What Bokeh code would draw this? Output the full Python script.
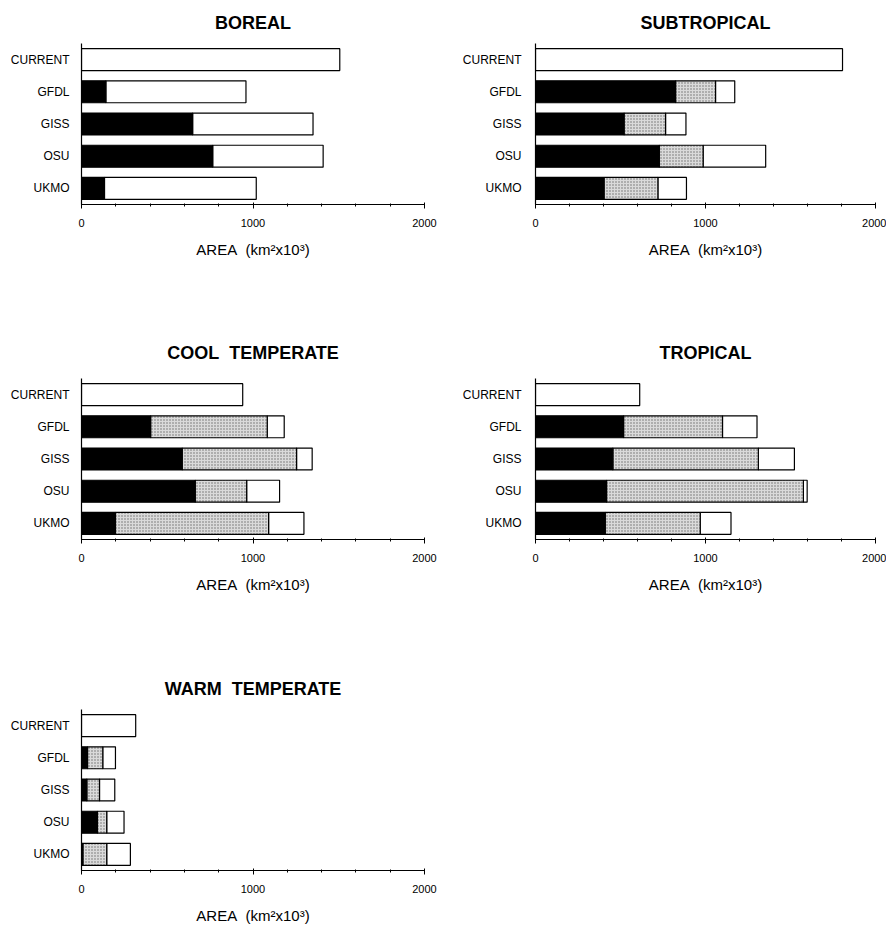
from bokeh.plotting import figure
from bokeh.layouts import column, row
from bokeh.models import FactorRange, Range1d, SingleIntervalTicker, ColumnDataSource
from bokeh.embed import file_html
from bokeh.resources import INLINE

# ---------------- data (area, km^2 x 10^3) ----------------
models = ["CURRENT", "GFDL", "GISS", "OSU", "UKMO"]
x_ticks = [0, 1000, 2000]

# segment lengths: black (solid), stippled, open (white)
boreal_black = [0, 142, 648, 765, 134]
boreal_stip = [0, 0, 0, 0, 0]
boreal_open = [1506, 817, 702, 644, 885]

subtropical_black = [0, 824, 521, 728, 403]
subtropical_stip = [0, 235, 244, 258, 317]
subtropical_open = [1806, 113, 120, 368, 168]

cool_black = [0, 403, 587, 663, 198]
cool_stip = [0, 680, 667, 300, 893]
cool_open = [940, 99, 91, 192, 206]

tropical_black = [0, 518, 455, 418, 410]
tropical_stip = [0, 582, 856, 1158, 559]
tropical_open = [613, 203, 212, 22, 181]

warm_black = [0, 35, 31, 93, 8]
warm_stip = [0, 89, 74, 54, 139]
warm_open = [316, 74, 89, 101, 138]

FONT = "Liberation Sans"
NB = "\u00a0"


def panel(title, black, stip, opn, width, height, bl, br, bt, bb,
          title_standoff, ylab_standoff):
    p = figure(
        width=width, height=height,
        y_range=FactorRange(factors=list(reversed(models))),
        x_range=Range1d(x_ticks[0], x_ticks[-1]),
        output_backend="svg", toolbar_location=None,
        min_border_left=bl, min_border_right=br,
        min_border_top=bt, min_border_bottom=bb,
        title=title,
    )
    p.outline_line_color = None
    p.grid.visible = False
    p.background_fill_color = "white"
    p.border_fill_color = "white"

    p.title.align = "center"
    p.title.text_font = FONT
    p.title.text_font_size = "18px"
    p.title.text_font_style = "bold"
    p.title.text_color = "black"
    p.title.standoff = title_standoff

    seg = {"black": dict(y=[], l=[], r=[]),
           "stip": dict(y=[], l=[], r=[]),
           "open": dict(y=[], l=[], r=[])}
    for m, b, s, o in zip(models, black, stip, opn):
        x0 = 0
        for key, w in (("black", b), ("stip", s), ("open", o)):
            if w > 0:
                seg[key]["y"].append(m)
                seg[key]["l"].append(x0)
                seg[key]["r"].append(x0 + w)
            x0 += w

    h = 0.68
    p.hbar(y="y", left="l", right="r", height=h,
           source=ColumnDataSource(seg["open"]),
           fill_color="white", line_color="black", line_width=1.2)
    p.hbar(y="y", left="l", right="r", height=h,
           source=ColumnDataSource(seg["stip"]),
           fill_color="#dadada", line_color="black", line_width=1.2,
           hatch_pattern="dot", hatch_color="#6a6a6a", hatch_scale=3,
           hatch_weight=1)
    p.hbar(y="y", left="l", right="r", height=h,
           source=ColumnDataSource(seg["black"]),
           fill_color="black", line_color="black", line_width=1.2)

    xa = p.xaxis[0]
    xa.ticker = SingleIntervalTicker(interval=1000, num_minor_ticks=5)
    xa.axis_label = "AREA" + NB + NB + "(km²x10³)"
    xa.axis_label_text_font = FONT
    xa.axis_label_text_font_size = "15px"
    xa.axis_label_text_font_style = "normal"
    xa.axis_label_text_color = "black"
    xa.axis_label_standoff = 11
    xa.major_label_text_font = FONT
    xa.major_label_text_font_size = "11px"
    xa.major_label_text_color = "black"
    xa.major_label_standoff = 10
    xa.major_tick_out = 4
    xa.major_tick_in = 2
    xa.minor_tick_out = 2
    xa.minor_tick_in = 1
    xa.axis_line_color = "black"
    xa.axis_line_width = 1.2
    xa.major_tick_line_color = "black"
    xa.minor_tick_line_color = "black"

    ya = p.yaxis[0]
    ya.major_tick_out = 0
    ya.major_tick_in = 0
    ya.minor_tick_out = 0
    ya.major_label_standoff = ylab_standoff
    ya.major_label_text_font = FONT
    ya.major_label_text_font_size = "12px"
    ya.major_label_text_color = "black"
    ya.axis_line_color = "black"
    ya.axis_line_width = 1.2
    return p


W = 443
p1 = panel("BOREAL", boreal_black, boreal_stip, boreal_open,
           W, 325, 81, 19, 42, 121, 21, 12)
p2 = panel("SUBTROPICAL", subtropical_black, subtropical_stip, subtropical_open,
           W, 325, 92, 11, 42, 121, 21, 14)
p3 = panel("COOL" + NB + NB + "TEMPERATE", cool_black, cool_stip, cool_open,
           W, 340, 81, 19, 52, 126, 31, 12)
p4 = panel("TROPICAL", tropical_black, tropical_stip, tropical_open,
           W, 340, 92, 11, 52, 126, 31, 14)
p5 = panel("WARM" + NB + NB + "TEMPERATE", warm_black, warm_stip, warm_open,
           W, 262, 81, 19, 43, 57, 22, 12)

layout = column(row(p1, p2), row(p3, p4), row(p5))

open("out.html", "w").write(file_html(layout, INLINE))
